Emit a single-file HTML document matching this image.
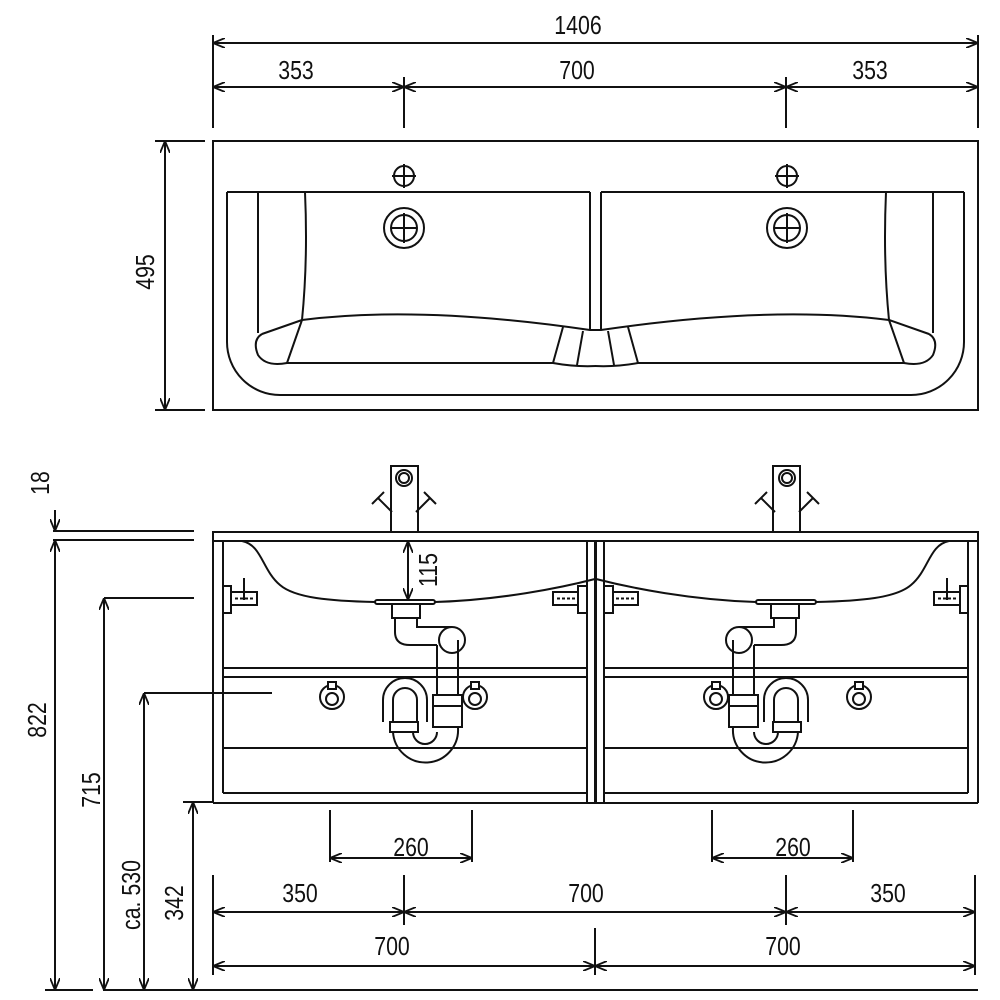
<!DOCTYPE html>
<html><head><style>
html,body{margin:0;padding:0;background:#fff;width:1000px;height:1000px;overflow:hidden}
svg{display:block}
text{font-family:"Liberation Sans",sans-serif;font-size:26px;fill:#111}
</style></head><body>
<svg width="1000" height="1000" viewBox="0 0 1000 1000" xmlns="http://www.w3.org/2000/svg">
<defs>
<marker id="a" viewBox="0 0 12 10" refX="12" refY="5" markerWidth="12" markerHeight="10" markerUnits="userSpaceOnUse" orient="auto-start-reverse">
<path d="M0,0 L12,5 L0,10" fill="none" stroke="#111" stroke-width="1.8"/>
</marker>
<g id="plan">
<path d="M227,192 V342 A53,53 0 0 0 280,395 H596" fill="none"/>
<path d="M227,192 H590"/>
<path d="M258,192 V333 M262,334 L302,320 M262,334 Q252,340 258,355 Q266,367 287,363 H553 Q575,367 596,366"/>
<path d="M305,192 Q308,260 302,320 L287,363"/>
<path d="M302,320 Q420,305 590,330 L596,330"/>
<path d="M590,192 V330"/>
<path d="M563,327 L553,363 M583,331 L577,365"/>
<circle cx="404" cy="176" r="10"/><path d="M404,164 V188 M392,176 H416"/>
<circle cx="404" cy="228" r="20"/><circle cx="404" cy="228" r="13"/><path d="M404,213 V243 M391,228 H417"/>
</g>
<g id="front">
<path d="M213,532 V803 M223,541 V793 M587,541 V803 M595,541 V803"/>
<path d="M223,668 H587 M223,677 H587 M223,748 H587 M223,793 H587"/>
<path d="M242,541 C262,545 262,570 280,585 C295,598 330,601 375,602 M435,602 C500,600 560,588 595,579" fill="none"/>
<rect x="223" y="586" width="8" height="27" fill="#fff"/>
<rect x="231" y="592" width="26" height="13" fill="#fff"/>
<path d="M235,598.5 H253" stroke-dasharray="3,2"/>
<path d="M244,578 V600"/>
<rect x="553" y="592" width="25" height="13" fill="#fff"/>
<path d="M557,598.5 H575" stroke-dasharray="3,2"/>
<rect x="578" y="586" width="9" height="27" fill="#fff"/>
<rect x="391" y="466" width="27" height="66" fill="#fff"/>
<circle cx="404" cy="478" r="8"/><circle cx="404" cy="478" r="5"/>
<path d="M392,512 L378,498 M372,504 L384,492 M416,512 L430,498 M424,492 L436,504"/>
<rect x="375" y="600" width="60" height="4" rx="2" fill="#fff"/>
<rect x="392" y="604" width="28" height="14" fill="#fff"/>
<path d="M437,645 V725 M458,645 V725 M395,618 V632 Q395,645 410,645 H437 M417,618 V627 H452" fill="none"/>
<circle cx="452" cy="640" r="13" fill="#fff"/>
<path d="M437,645 V653 M458,640 V653"/>
<path d="M383,722 V700 A22,22 0 0 1 427,700 V722 M393,722 V700 A12,12 0 0 1 417,700 V722" fill="none"/>
<path d="M393,732 A32,32 0 0 0 458,728 M413,732 A12,12 0 0 0 437,732" fill="none"/>
<rect x="390" y="722" width="28" height="10" fill="#fff"/>
<rect x="433" y="695" width="29" height="32" fill="#fff"/>
<path d="M433,706 H462"/>
<circle cx="332" cy="697" r="12" fill="#fff"/><circle cx="332" cy="699" r="6"/><rect x="328" y="682" width="8" height="7" fill="#fff"/>
<circle cx="475" cy="697" r="12" fill="#fff"/><circle cx="475" cy="699" r="6"/><rect x="471" y="682" width="8" height="7" fill="#fff"/>
</g>
</defs>

<g stroke="#111" stroke-width="2" fill="none">
<path d="M213,35 V128 M978,35 V128 M404,77 V128 M786,77 V128"/>
<path d="M213,43 H978" marker-start="url(#a)" marker-end="url(#a)"/>
<path d="M213,87 H404" marker-start="url(#a)" marker-end="url(#a)"/>
<path d="M404,87 H786" marker-start="url(#a)" marker-end="url(#a)"/>
<path d="M786,87 H978" marker-start="url(#a)" marker-end="url(#a)"/>
<path d="M155,141 H205 M155,410 H205"/>
<path d="M165,141 V410" marker-start="url(#a)" marker-end="url(#a)"/>
<rect x="213" y="141" width="765" height="269"/>
<use href="#plan"/>
<use href="#plan" transform="translate(1191,0) scale(-1,1)"/>
<rect x="213" y="532" width="765" height="9" fill="#fff"/>
<path d="M213,803 H978"/>
<use href="#front"/>
<use href="#front" transform="translate(1191,0) scale(-1,1)"/>
<path d="M408,541 V600" marker-start="url(#a)" marker-end="url(#a)"/>
<path d="M53,531 H194 M53,540 H194"/>
<path d="M55,510 V531" marker-end="url(#a)"/>
<path d="M55,540 V990" marker-start="url(#a)" marker-end="url(#a)"/>
<path d="M104,598 H194"/>
<path d="M104,598 V990" marker-start="url(#a)" marker-end="url(#a)"/>
<path d="M144,693 H272"/>
<path d="M144,693 V990" marker-start="url(#a)" marker-end="url(#a)"/>
<path d="M183,802 H213"/>
<path d="M193,802 V990" marker-start="url(#a)" marker-end="url(#a)"/>
<path d="M45,990 H93 M103,990 H978"/>
<path d="M330,810 V862 M472,810 V862 M712,810 V862 M853,810 V862"/>
<path d="M330,858 H472" marker-start="url(#a)" marker-end="url(#a)"/>
<path d="M712,858 H853" marker-start="url(#a)" marker-end="url(#a)"/>
<path d="M213,875 V975 M404,875 V925 M786,875 V925 M975,875 V975 M595,928 V975"/>
<path d="M213,912 H404" marker-start="url(#a)" marker-end="url(#a)"/>
<path d="M404,912 H786" marker-start="url(#a)" marker-end="url(#a)"/>
<path d="M786,912 H975" marker-start="url(#a)" marker-end="url(#a)"/>
<path d="M213,966 H595" marker-start="url(#a)" marker-end="url(#a)"/>
<path d="M595,966 H975" marker-start="url(#a)" marker-end="url(#a)"/>
</g>

<g text-anchor="middle">
<text transform="translate(578,34) scale(0.82,1)">1406</text>
<text transform="translate(296,79) scale(0.82,1)">353</text>
<text transform="translate(577,79) scale(0.82,1)">700</text>
<text transform="translate(870,79) scale(0.82,1)">353</text>
<text transform="translate(154,272) rotate(-90) scale(0.82,1)">495</text>
<text transform="translate(437,570) rotate(-90) scale(0.82,1)">115</text>
<text transform="translate(49,483) rotate(-90) scale(0.82,1)">18</text>
<text transform="translate(46,720) rotate(-90) scale(0.82,1)">822</text>
<text transform="translate(100,790) rotate(-90) scale(0.82,1)">715</text>
<text transform="translate(140,895) rotate(-90) scale(0.82,1)">ca. 530</text>
<text transform="translate(183,903) rotate(-90) scale(0.82,1)">342</text>
<text transform="translate(411,856) scale(0.82,1)">260</text>
<text transform="translate(793,856) scale(0.82,1)">260</text>
<text transform="translate(300,902) scale(0.82,1)">350</text>
<text transform="translate(586,902) scale(0.82,1)">700</text>
<text transform="translate(888,902) scale(0.82,1)">350</text>
<text transform="translate(392,955) scale(0.82,1)">700</text>
<text transform="translate(783,955) scale(0.82,1)">700</text>
</g>
</svg>
</body></html>
